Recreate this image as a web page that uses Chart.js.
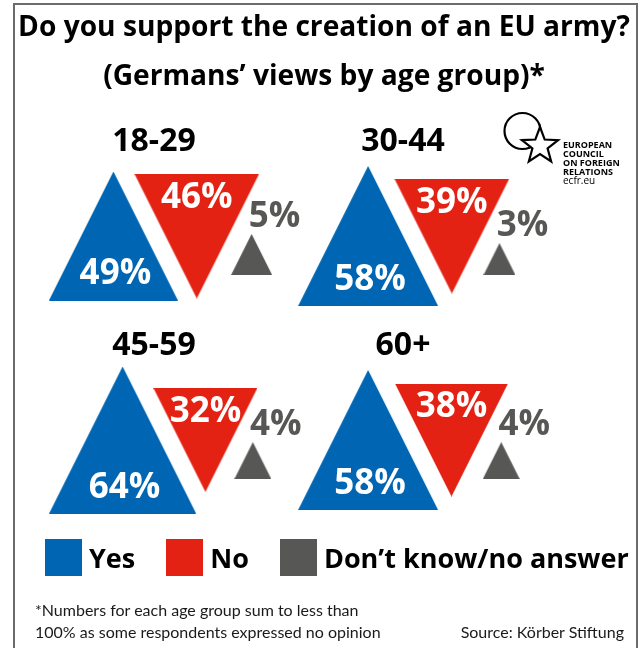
<!DOCTYPE html>
<html>
<head>
<meta charset="utf-8">
<title>EU army</title>
<script src="https://cdn.jsdelivr.net/npm/chart.js@4.4.1/dist/chart.umd.min.js"></script>
<style>
  html, body { margin: 0; padding: 0; background: #fff; }
  #wrap { position: relative; width: 644px; height: 648px; overflow: hidden; font-family: "Open Sans", "DejaVu Sans", sans-serif; }
  #chart { position: absolute; left: 0; top: 0; }
  #frame { position: absolute; left: 13px; top: 3px; width: 625px; height: 700px; border: 2px solid #6b6b6b; box-sizing: border-box; pointer-events: none; }
  #legend { position: absolute; left: 45px; top: 539px; display: flex; margin: 0; padding: 0; list-style: none; }
  #legend li { display: flex; align-items: center; height: 37px; margin-right: 31px; font-weight: 700; font-size: 27px; color: #000; white-space: nowrap; }
  #legend .box { display: inline-block; width: 37px; height: 37px; margin-right: 7px; }
  .note { position: absolute; font-family: Lato, "Open Sans", sans-serif; font-size: 16px; line-height: 22px; color: #1a1a1a; white-space: nowrap; }
  #footnote { left: 35px; top: 599px; }
  #source { right: 20px; top: 621px; }
  #logo { position: absolute; left: 500px; top: 105px; }
</style>
</head>
<body>
<div id="wrap">
  <canvas id="chart" width="644" height="648"></canvas>
  <ul id="legend"></ul>
  <div class="note" id="footnote">*Numbers for each age group sum to less than<br>100% as some respondents expressed no opinion</div>
  <div class="note" id="source">Source: Körber Stiftung</div>
  <svg id="logo" width="130" height="85" viewBox="0 0 130 85">
    <circle cx="22.5" cy="26" r="18" fill="none" stroke="#000" stroke-width="2.2"/>
    <polygon points="40,22 44.7,34.53 58.07,35.13 47.61,43.47 51.17,56.37 40,49 28.83,56.37 32.39,43.47 21.93,35.13 35.3,34.53" fill="#fff" stroke="#000" stroke-width="2.2"/>
    <g font-family="Open Sans, sans-serif" font-weight="700" font-size="9" fill="#000">
      <text x="63" y="42.5">EUROPEAN</text>
      <text x="63" y="51.8">COUNCIL</text>
      <text x="63" y="61.1">ON FOREIGN</text>
      <text x="63" y="70.3">RELATIONS</text>
    </g>
    <text x="63" y="79" font-family="Open Sans, sans-serif" font-size="10" fill="#000">ecfr.eu</text>
  </svg>
  <div id="frame"></div>
</div>
<script>
// data
const ageGroups = ['18-29', '30-44', '45-59', '60+'];
const answers = ['Yes', 'No', 'Don’t know/no answer'];
const yesPct = [49, 58, 64, 58];
const noPct = [46, 39, 32, 38];
const dontKnowPct = [5, 3, 4, 4];
const titleLines = ['Do you support the creation of an EU army?', '(Germans’ views by age group)*'];

const colours = ['#0066b3', '#e32213', '#575756'];
const FONT = '"Open Sans", "DejaVu Sans", sans-serif';

// layout, in page pixels (the scales get set 1:1 to the page further down)
const colLeft = [49, 298];   // left corner of the "Yes" triangle in each column
const rowMid = [236, 440];   // vertical middle of the Yes/No triangles in each row
const SIDE = 18.4;           // side per sqrt(percent), so the area follows the value
const GAP_YES_NO = 20;
const GAP_NO_DK = 22.5;

function side(v) { return SIDE * Math.sqrt(v); }

// where the three triangles of one age group sit
function panelPoints(i) {
  const col = i % 2, row = Math.floor(i / 2);
  const bs = side(yesPct[i]), rs = side(noPct[i]), gs = side(dontKnowPct[i]);
  const yes = { x: colLeft[col] + bs / 2, y: rowMid[row], v: yesPct[i] };
  const no = { x: yes.x + GAP_YES_NO + (bs + rs) / 4, y: rowMid[row], v: noPct[i] };
  const dkBase = rowMid[row] + 39;
  const dkApex = dkBase - gs;
  const noRight = no.x + rs / 2 - (dkApex - (no.y - rs / 2)) / 2;
  const dk = { x: noRight + GAP_NO_DK, y: dkBase - gs / 2, v: dontKnowPct[i] };
  return [yes, no, dk];
}

// triangle image used as point style, sized through the scales
function triangle(c, down) {
  const sc = c.chart.scales;
  if (!c.raw || !sc.x || !sc.y) return 'triangle';
  const s = side(c.raw.v);
  const w = Math.abs(sc.x.getPixelForValue(s) - sc.x.getPixelForValue(0));
  const h = Math.abs(sc.y.getPixelForValue(s) - sc.y.getPixelForValue(0));
  if (!isFinite(w) || !isFinite(h) || w < 1 || h < 1) return 'triangle';
  const cv = document.createElement('canvas');
  cv.width = Math.round(w);
  cv.height = Math.round(h);
  const g = cv.getContext('2d');
  g.fillStyle = colours[c.datasetIndex];
  g.beginPath();
  if (down) {
    g.moveTo(0, 0); g.lineTo(cv.width, 0); g.lineTo(cv.width / 2, cv.height);
  } else {
    g.moveTo(cv.width / 2, 0); g.lineTo(cv.width, cv.height); g.lineTo(0, cv.height);
  }
  g.closePath();
  g.fill();
  return cv;
}

function fitFont(text, width) {
  const g = document.createElement('canvas').getContext('2d');
  g.font = 'bold 100px ' + FONT;
  return 100 * width / g.measureText(text).width;
}
const titleSize = fitFont(titleLines[0], 612);

// percentages and age group headings
const labelPlugin = {
  id: 'triLabels',
  afterDatasetsDraw(chart) {
    const { ctx, scales: { x, y } } = chart;
    ctx.save();
    ctx.textAlign = 'center';
    ctx.textBaseline = 'middle';
    ctx.font = 'bold 35px ' + FONT;
    chart.data.datasets.forEach((ds, k) => {
      chart.getDatasetMeta(k).data.forEach((pt, i) => {
        const v = ds.data[i].v;
        const h = Math.abs(y.getPixelForValue(side(v)) - y.getPixelForValue(0));
        let tx = pt.x, ty;
        if (k === 0) {
          tx += 2; ty = pt.y + h / 2 - 26; ctx.fillStyle = '#fff';
        } else if (k === 1) {
          ty = pt.y - h / 2 + 24; ctx.fillStyle = '#fff';
        } else {
          tx += 23; ty = pt.y - h / 2 - 17; ctx.fillStyle = colours[2];
        }
        ctx.fillText(v + '%', tx, ty);
      });
    });
    ctx.fillStyle = '#000';
    ctx.font = 'bold 32px ' + FONT;
    ageGroups.forEach((g, i) => {
      ctx.fillText(g, x.getPixelForValue(colLeft[i % 2] + 105), y.getPixelForValue(rowMid[Math.floor(i / 2)] - 94));
    });
    ctx.restore();
  }
};

// legend as html, items from chart.js
const htmlLegend = {
  id: 'htmlLegend',
  afterUpdate(chart) {
    const ul = document.getElementById('legend');
    ul.innerHTML = '';
    chart.options.plugins.legend.labels.generateLabels(chart).forEach(item => {
      const li = document.createElement('li');
      const box = document.createElement('span');
      box.className = 'box';
      box.style.background = item.fillStyle;
      const txt = document.createElement('span');
      txt.textContent = item.text;
      li.append(box, txt);
      ul.append(li);
    });
  }
};

const pts = ageGroups.map((g, i) => panelPoints(i));

const chart = new Chart(document.getElementById('chart'), {
  type: 'scatter',
  data: {
    datasets: answers.map((name, k) => ({
      label: name,
      data: pts.map(p => p[k]),
      backgroundColor: colours[k],
      borderColor: colours[k],
      pointRadius: 1,
      pointBorderWidth: 0,
      pointStyle: c => triangle(c, k === 1),
      clip: false
    }))
  },
  options: {
    responsive: false,
    animation: false,
    events: [],
    layout: { padding: { left: 4, right: 0, top: 0, bottom: 0 } },
    scales: {
      x: { type: 'linear', display: false },
      y: { type: 'linear', display: false, reverse: true }
    },
    plugins: {
      title: {
        display: true,
        text: titleLines,
        color: '#000',
        font: { family: FONT, weight: 'bold', size: titleSize, lineHeight: 49 / titleSize },
        padding: { top: 3, bottom: 0 }
      },
      legend: { display: false },
      tooltip: { enabled: false }
    }
  },
  plugins: [labelPlugin, htmlLegend]
});

// map the hidden scales 1:1 onto the page pixels
const area = chart.chartArea;
chart.options.scales.x.min = area.left;
chart.options.scales.x.max = area.right;
chart.options.scales.y.min = area.top;
chart.options.scales.y.max = area.bottom;
chart.update();
</script>
</body>
</html>
